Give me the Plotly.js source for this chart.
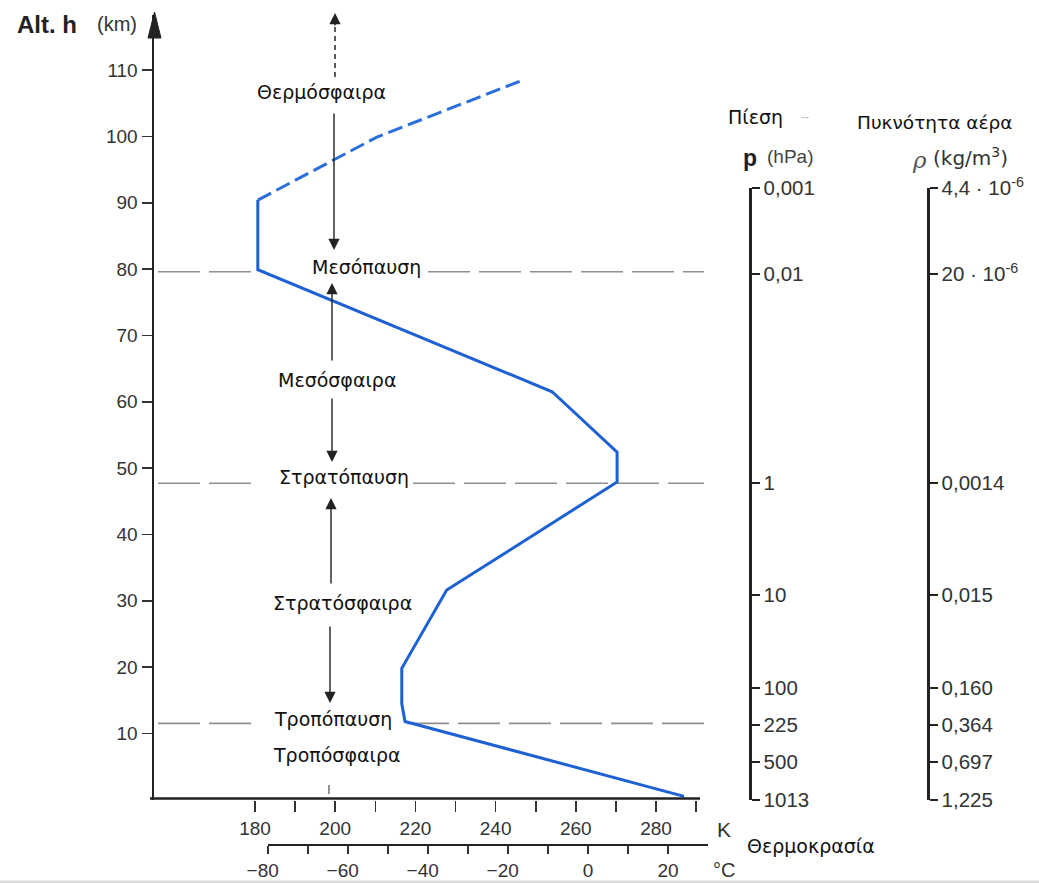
<!DOCTYPE html>
<html><head><meta charset="utf-8">
<script src="https://cdn.plot.ly/plotly-3.0.1.min.js"></script>
<style>html,body{margin:0;padding:0;background:#fff;}#chart{width:1039px;height:883px;}</style>
</head><body><div id="chart"></div>
<script>
// ---------------- data ----------------
const tempSolidK = [287.0, 217.4, 216.6, 216.6, 227.8, 270.3, 270.3, 254.1, 180.7, 180.7];
const altSolidKm = [0.5, 11.8, 14.5, 19.8, 31.6, 47.9, 52.4, 61.5, 79.9, 90.4];
const tempDashK = [180.7, 199.5, 210.4, 246.8];
const altDashKm = [90.4, 96.4, 99.9, 108.5];

const kTickVals = [180, 200, 220, 240, 260, 280];
const kTickText = ['180', '200', '220', '240', '260', '280'];
const kMinorVals = [190, 210, 230, 250, 270, 290];
const cTickVals = [-80, -60, -40, -20, 0, 20];
const cTickText = ['\u221280\u00a0\u00a0', '\u221260\u00a0\u00a0', '\u221240\u00a0\u00a0', '\u221220\u00a0\u00a0', '0', '20'];
const cMinorVals = [-70, -50, -30, -10, 10];
const altTickVals = [10, 20, 30, 40, 50, 60, 70, 80, 90, 100, 110];

const levelAltKm = [92.27, 79.3, 47.8, 30.9, 16.9, 11.3, 5.7, 0];
const pressureLabels = ['0,001', '0,01', '1', '10', '100', '225', '500', '1013'];
const densityLabels = ['4,4 \u00b7 10<sup>-6</sup>', '20 \u00b7 10<sup>-6</sup>', '0,0014', '0,015', '0,160', '0,364', '0,697', '1,225'];

const boundaryAltKm = [79.6, 47.7, 11.5];
const boundaryNames = ['Μεσόπαυση', 'Στρατόπαυση', 'Τροπόπαυση'];
const layerNames = ['Θερμόσφαιρα', 'Μεσόσφαιρα', 'Στρατόσφαιρα', 'Τροπόσφαιρα'];

// ---------------- geometry helpers ----------------
const W = 1039, H = 883;
const px = x => x / W;
const py = y => 1 - y / H;
const X0PX = 154, X1PX = 720, KPX = 4.01, K0 = 154.81;
const Y0PX = 799.7, YTOPPX = 15, HPX = 6.633;
const xK = p => K0 + (p - X0PX) / KPX;      // pixel -> K
const hY = p => (Y0PX - p) / HPX;           // pixel -> km
const CLINE = 845;

const greek = 'DejaVu Sans, Liberation Sans, sans-serif';
const latin = 'Liberation Sans, Arial, sans-serif';
const ink = '#222';

const traces = [
  {x: tempSolidK, y: altSolidKm, mode: 'lines', line: {color: '#1d61d4', width: 3}, hoverinfo: 'skip', cliponaxis: false},
  {x: tempDashK, y: altDashKm, mode: 'lines', line: {color: '#2a6fdc', width: 3, dash: '15px,6px'}, hoverinfo: 'skip', cliponaxis: false},
  {x: [0], y: [50], xaxis: 'x2', yaxis: 'y', mode: 'markers', marker: {opacity: 0}, hoverinfo: 'skip'},
  {x: [200], y: [50], xaxis: 'x', yaxis: 'y2', mode: 'markers', marker: {opacity: 0}, hoverinfo: 'skip'},
  {x: [200], y: [50], xaxis: 'x', yaxis: 'y3', mode: 'markers', marker: {opacity: 0}, hoverinfo: 'skip'}
];

const shapes = [];
const annotations = [];

// faint bottom border
shapes.push({type: 'rect', xref: 'paper', yref: 'paper', x0: 0, x1: 1, y0: 0, y1: py(880.5), fillcolor: '#dcdcdc', line: {width: 0}, layer: 'below'});

// boundary dashed lines with gaps for their labels
const gapLeftPx = [253, 259, 255];
const gapRightPx = [428, 413, 407];
const boundaryLabelPx = [[366, 267], [344, 477], [333, 719]];
boundaryAltKm.forEach((h, i) => {
  const seg = (a, b) => shapes.push({type: 'line', xref: 'x', yref: 'y', x0: a, x1: b, y0: h, y1: h,
    line: {color: '#8f8f8f', width: 1.6, dash: '42px,9px'}, layer: 'below'});
  seg(xK(158), xK(gapLeftPx[i]));
  seg(xK(gapRightPx[i]), xK(704));
  annotations.push({x: xK(boundaryLabelPx[i][0]), y: hY(boundaryLabelPx[i][1]), xref: 'x', yref: 'y',
    text: boundaryNames[i], showarrow: false, xanchor: 'center', yanchor: 'middle',
    font: {family: greek, size: 19, color: '#111'}});
});

// layer labels
const layerLabelPx = [[321, 92], [337, 380], [342, 603], [336, 755]];
layerNames.forEach((t, i) => annotations.push({x: xK(layerLabelPx[i][0]), y: hY(layerLabelPx[i][1]), xref: 'x', yref: 'y',
  text: t, showarrow: false, xanchor: 'center', yanchor: 'middle', font: {family: greek, size: 19, color: '#111'}}));

// vertical arrows between labels
const arrowPx = [[112, 250, 334], [362, 283, 332], [397, 462, 332], [585, 498, 331], [625, 703, 330]];
arrowPx.forEach(a => annotations.push({x: xK(a[2]), y: hY(a[1]), ax: xK(a[2]), ay: hY(a[0]), xref: 'x', yref: 'y',
  axref: 'x', ayref: 'y', text: '', showarrow: true, arrowhead: 2, arrowsize: 1.6, arrowwidth: 1.4, arrowcolor: ink, standoff: 0}));
// dashed arrow up into the thermosphere
shapes.push({type: 'line', xref: 'paper', yref: 'paper', x0: px(335), x1: px(335), y0: py(77), y1: py(26),
  line: {color: '#333', width: 1.6, dash: '5px,4px'}});
annotations.push({x: px(335), y: py(13), ax: px(335), ay: py(27), xref: 'paper', yref: 'paper', axref: 'paper', ayref: 'paper',
  text: '', showarrow: true, arrowhead: 2, arrowsize: 1.6, arrowwidth: 1.4, arrowcolor: ink, standoff: 0});
// small mark above the temperature axis
shapes.push({type: 'line', xref: 'paper', yref: 'paper', x0: px(329), x1: px(329), y0: py(785), y1: py(794),
  line: {color: '#777', width: 1.6}});

// axis lines / arrowhead
shapes.push({type: 'line', xref: 'paper', yref: 'paper', x0: px(150), x1: px(700), y0: py(798.5), y1: py(798.5), line: {color: ink, width: 2.5}});
shapes.push({type: 'line', xref: 'paper', yref: 'paper', x0: px(268), x1: px(708), y0: py(CLINE), y1: py(CLINE), line: {color: ink, width: 2.2}});
shapes.push({type: 'path', xref: 'paper', yref: 'paper',
  path: `M ${px(148)} ${py(38)} L ${px(154.5)} ${py(12)} L ${px(161)} ${py(38)} Z`, fillcolor: ink, line: {color: ink, width: 1}});

// header / axis texts
const txt = (x, y, t, size, fam, color, anchor) => annotations.push({x: px(x), y: py(y), xref: 'paper', yref: 'paper',
  text: t, showarrow: false, xanchor: anchor || 'left', yanchor: 'middle', font: {family: fam, size: size, color: color}});
txt(15, 24, '<b>Alt. h</b>', 24, latin, '#222');
txt(95, 24, '(km)', 20, latin, '#333');
txt(726, 117, 'Πίεση', 19, greek, '#111');
txt(799, 117, '--', 12, latin, '#bbb');
txt(855, 122, 'Πυκνότητα αέρα', 18.5, greek, '#111');
txt(741, 158, '<b>p</b>', 23, latin, '#222');
txt(765, 157, '(hPa)', 19, latin, '#444');
txt(910, 160, '<i>ρ</i>', 23, 'DejaVu Serif, serif', '#555');
txt(931, 157, '(kg/m<sup>3</sup>)', 20, greek, '#333');
txt(715, 829, 'K', 21, latin, '#333');
txt(711, 870, '°C', 20, latin, '#333');
txt(745, 846, 'Θερμοκρασία', 19, greek, '#111');

const tickFont = {family: latin, size: 19, color: '#333'};
const rightFont = {family: latin, size: 20.5, color: '#333'};
const layout = {
  width: W, height: H, margin: {l: 0, r: 0, t: 0, b: 0}, paper_bgcolor: '#fff', plot_bgcolor: 'rgba(0,0,0,0)',
  showlegend: false,
  xaxis: {domain: [px(X0PX), px(X1PX)], range: [K0, K0 + (X1PX - X0PX) / KPX], anchor: 'y',
    showline: false, showgrid: false, zeroline: false, ticks: 'outside', ticklen: 11, tickwidth: 1.6, tickcolor: '#333',
    tickmode: 'array', tickvals: kTickVals, ticktext: kTickText, tickfont: tickFont, fixedrange: true,
    minor: {tickmode: 'array', tickvals: kMinorVals, ticks: 'outside', ticklen: 11, tickwidth: 1.6, tickcolor: '#333', showgrid: false}},
  xaxis2: {overlaying: 'x', anchor: 'free', position: py(CLINE), side: 'bottom',
    range: [(X0PX - 588) / 4.0, (X1PX - 588) / 4.0],
    showline: false, showgrid: false, zeroline: false, ticks: 'outside', ticklen: 8, tickwidth: 1.6, tickcolor: '#333',
    tickmode: 'array', tickvals: cTickVals, ticktext: cTickText, tickfont: tickFont, fixedrange: true,
    minor: {tickmode: 'array', tickvals: cMinorVals, ticks: 'outside', ticklen: 8, tickwidth: 1.6, tickcolor: '#333', showgrid: false}},
  yaxis: {domain: [py(Y0PX), py(YTOPPX)], range: [0, (Y0PX - YTOPPX) / HPX], anchor: 'x',
    showline: true, linewidth: 2.5, linecolor: ink, showgrid: false, zeroline: false,
    ticks: 'outside', ticklen: 10, tickwidth: 1.6, tickcolor: '#333',
    tickmode: 'array', tickvals: altTickVals, tickfont: tickFont, fixedrange: true},
  yaxis2: {domain: [py(800), py(188)], range: [0, (800 - 188) / HPX], anchor: 'free', position: px(750), side: 'right',
    showline: true, linewidth: 2.5, linecolor: ink, showgrid: false, zeroline: false,
    ticks: 'outside', ticklen: 8, tickwidth: 1.6, tickcolor: ink,
    tickmode: 'array', tickvals: levelAltKm, ticktext: pressureLabels, tickfont: rightFont, fixedrange: true},
  yaxis3: {domain: [py(800), py(188)], range: [0, (800 - 188) / HPX], anchor: 'free', position: px(928), side: 'right',
    showline: true, linewidth: 2.5, linecolor: ink, showgrid: false, zeroline: false,
    ticks: 'outside', ticklen: 8, tickwidth: 1.6, tickcolor: ink,
    tickmode: 'array', tickvals: levelAltKm, ticktext: densityLabels, tickfont: rightFont, fixedrange: true},
  shapes: shapes,
  annotations: annotations
};

Plotly.newPlot('chart', traces, layout, {staticPlot: true, displayModeBar: false});
</script>
</body></html>
